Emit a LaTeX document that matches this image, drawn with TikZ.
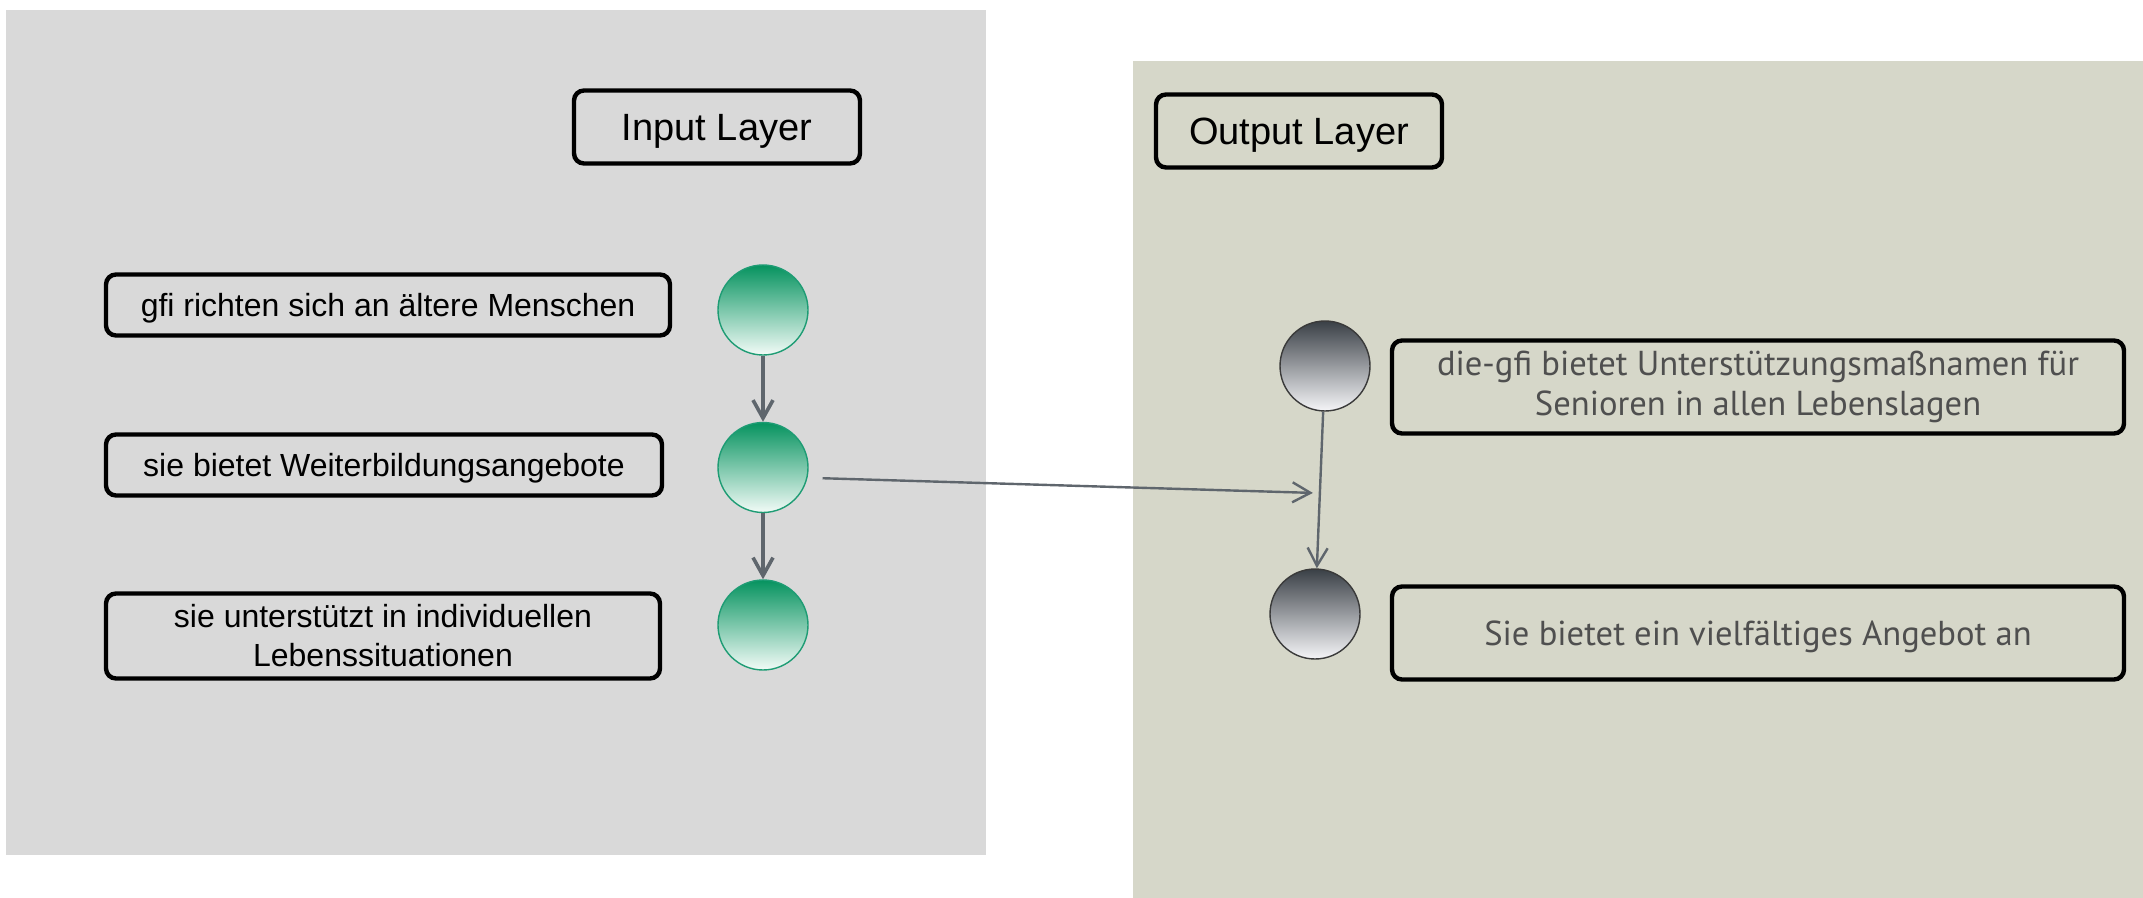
\documentclass[tikz,border=0pt]{standalone}
\usepackage{fontspec}
\setmainfont{Liberation Sans}
\newfontfamily\outfont{PT Sans}
\usetikzlibrary{arrows.meta,positioning}

\definecolor{inpanel}{HTML}{D9D9D9}
\definecolor{outpanel}{HTML}{D6D7C9}
\definecolor{greentop}{HTML}{06935F}
\definecolor{greenbot}{HTML}{F2FBF7}
\definecolor{greenrim}{HTML}{1E9C74}
\definecolor{graytop}{HTML}{3A4046}
\definecolor{graybot}{HTML}{F5F5F8}
\definecolor{grayrim}{HTML}{3A3A3A}
\definecolor{linkgray}{HTML}{5F666D}
\definecolor{outtext}{HTML}{4F4F4F}

\begin{document}
\begin{tikzpicture}[x=0.5pt, y=-0.5pt, node distance=78.75pt, on grid,
        every node/.style={inner sep=0pt},
        textbox/.style={draw, line width=2.2pt, rounded corners=5pt, align=center,
            font=\fontsize{16}{19.5}\selectfont},
        oneline/.style={text height=11.5pt, text depth=0pt},
        layerbox/.style={textbox, minimum width=143pt, minimum height=36.5pt,
            text height=13.7pt, text depth=0pt, font=\fontsize{19}{23}\selectfont},
        outbox/.style={textbox, minimum width=366pt, minimum height=46.5pt, text=outtext,
            font=\outfont\fontsize{17.3}{20}\selectfont},
        ingreen/.style={circle, minimum size=45pt, draw=greenrim, line width=0.7pt,
            top color=greentop, bottom color=greenbot},
        outgray/.style={circle, minimum size=45pt, draw=grayrim, line width=0.7pt,
            top color=graytop, bottom color=graybot},
        link/.style={draw=linkgray, line width=1.8pt, -{Straight Barb[length=9pt,width=10pt]}},
        thinlink/.style={link, line width=1.2pt}]
    \useasboundingbox (0,0) rectangle (2143,898);
    % panels
    \fill[inpanel] (6,10) rectangle (986,855);
    \fill[outpanel] (1133,61) rectangle (2143,898);
    % input layer
    \node[layerbox] (inlayer) at (717,127) {Input Layer};
    \node[ingreen] (gA) at (763,310) {};
    \node[ingreen] (gB) [below=of gA] {};
    \node[ingreen] (gC) [below=of gB] {};
    \node[textbox, oneline, minimum width=282pt, minimum height=30.5pt] (tA) at (388,305) {gfi richten sich an ältere Menschen};
    \node[textbox, oneline, minimum width=278pt, minimum height=30.5pt] (tB) at (384,465) {sie bietet Weiterbildungsangebote};
    \node[textbox, minimum width=277pt, minimum height=42.5pt] (tC) at (383,636) {sie unterstützt in individuellen\\Lebenssituationen};
    \draw[link] (gA) -- (gB);
    \draw[link] (gB) -- (gC);
    % output layer
    \node[layerbox] (outlayer) at (1299,131) {Output Layer};
    \node[outgray] (gD) at (1325,366) {};
    \node[outgray] (gE) at (1315,614) {};
    \node[outbox] (tD) at (1758,387) {die-gfi bietet Unterstützungsmaßnamen für\\Senioren in allen Lebenslagen};
    \node[outbox, text height=12.5pt, text depth=0pt] (tE) at (1758,633) {Sie bietet ein vielfältiges Angebot an};
    \draw[thinlink] (gD) -- coordinate[pos=0.52] (hit) (gE);
    \draw[thinlink, shorten <=7.5pt, shorten >=3.5pt] (gB.-13) -- (hit);
\end{tikzpicture}
\end{document}
